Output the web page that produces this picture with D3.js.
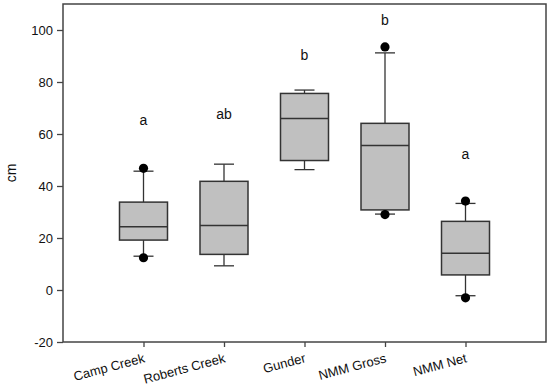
<!DOCTYPE html>
<html><head><meta charset="utf-8">
<script src="https://cdn.jsdelivr.net/npm/d3@7"></script>
<style>body{margin:0;background:#fff}svg{display:block}text{font-family:"Liberation Sans",Arial,sans-serif;fill:#111}</style>
</head><body>
<script>
const categories = ["Camp Creek","Roberts Creek","Gunder","NMM Gross","NMM Net"];
const whiskerLow  = [13.0, 9.3, 46.3, 29.2, -2.2];
const q1          = [19.2, 13.7, 49.8, 30.8, 5.8];
const median      = [24.3, 24.8, 66.0, 55.6, 14.1];
const q3          = [33.8, 41.8, 75.6, 64.1, 26.4];
const whiskerHigh = [45.7, 48.4, 76.9, 91.2, 33.3];
const outlierLow  = [12.4, null, null, 29.0, -3.0];
const outlierHigh = [46.8, null, null, 93.5, 34.2];
const letters     = ["a","ab","b","b","a"];
const letterY     = [65.5, 67.5, 90.5, 104, 52.3];
const yTicks      = [-20, 0, 20, 40, 60, 80, 100];

const W = 550, H = 389;
const L = 63, R = 546, T = 4, B = 342;
const svg = d3.select("body").append("svg").attr("width", W).attr("height", H);
const x = d3.scaleLinear().domain([0, categories.length + 1]).range([L, R]);
const y = d3.scaleLinear().domain([-20, 110]).range([B, T]);

const lineCol = "#333";
// frame
svg.append("rect").attr("x", L).attr("y", T).attr("width", R - L).attr("height", B - T)
  .attr("fill", "none").attr("stroke", "#444").attr("stroke-width", 1.5);

// y axis
const ya = svg.append("g").attr("transform", `translate(${L},0)`)
  .call(d3.axisLeft(y).tickValues(yTicks).tickSize(6).tickSizeOuter(0).tickPadding(4).tickFormat(d => String(d)));
ya.select(".domain").remove();
ya.selectAll(".tick line").attr("stroke", "#444").attr("stroke-width", 1.3);
ya.selectAll(".tick text").attr("font-size", 13).attr("font-family", "Liberation Sans, Arial, sans-serif").attr("fill", "#111");

// x axis
const xa = svg.append("g").attr("transform", `translate(0,${B})`)
  .call(d3.axisBottom(x).tickValues(d3.range(1, categories.length + 1)).tickSize(5).tickSizeOuter(0).tickFormat(() => ""));
xa.select(".domain").remove();
xa.selectAll(".tick line").attr("stroke", "#444").attr("stroke-width", 1.3);

svg.append("g").selectAll("text").data(categories).join("text")
  .attr("transform", (d, i) => `translate(${x(i + 1) + 2},${B + 20}) rotate(-15)`)
  .attr("text-anchor", "end").attr("font-size", 13).text(d => d);

// y label
svg.append("text").attr("transform", `translate(16,${(T + B) / 2}) rotate(-90)`)
  .attr("text-anchor", "middle").attr("font-size", 14).text("cm");

const bw = 48, cw = 20;
const g = svg.append("g");
categories.forEach((c, i) => {
  const cx = x(i + 1);
  g.append("line").attr("x1", cx).attr("x2", cx).attr("y1", y(q3[i])).attr("y2", y(whiskerHigh[i]))
    .attr("stroke", lineCol).attr("stroke-width", 1.3);
  g.append("line").attr("x1", cx).attr("x2", cx).attr("y1", y(q1[i])).attr("y2", y(whiskerLow[i]))
    .attr("stroke", lineCol).attr("stroke-width", 1.3);
  [whiskerHigh[i], whiskerLow[i]].forEach(v => {
    g.append("line").attr("x1", cx - cw / 2).attr("x2", cx + cw / 2).attr("y1", y(v)).attr("y2", y(v))
      .attr("stroke", lineCol).attr("stroke-width", 1.3);
  });
  g.append("rect").attr("x", cx - bw / 2).attr("y", y(q3[i])).attr("width", bw).attr("height", y(q1[i]) - y(q3[i]))
    .attr("fill", "#c0c0c0").attr("stroke", lineCol).attr("stroke-width", 1.5);
  g.append("line").attr("x1", cx - bw / 2).attr("x2", cx + bw / 2).attr("y1", y(median[i])).attr("y2", y(median[i]))
    .attr("stroke", lineCol).attr("stroke-width", 1.5);
  [outlierHigh[i], outlierLow[i]].forEach(v => {
    if (v !== null) g.append("circle").attr("cx", cx).attr("cy", y(v)).attr("r", 4.6).attr("fill", "#000");
  });
  g.append("text").attr("x", cx).attr("y", y(letterY[i])).attr("dy", "0.35em")
    .attr("text-anchor", "middle").attr("font-size", 14).text(letters[i]);
});
</script>
</body></html>
